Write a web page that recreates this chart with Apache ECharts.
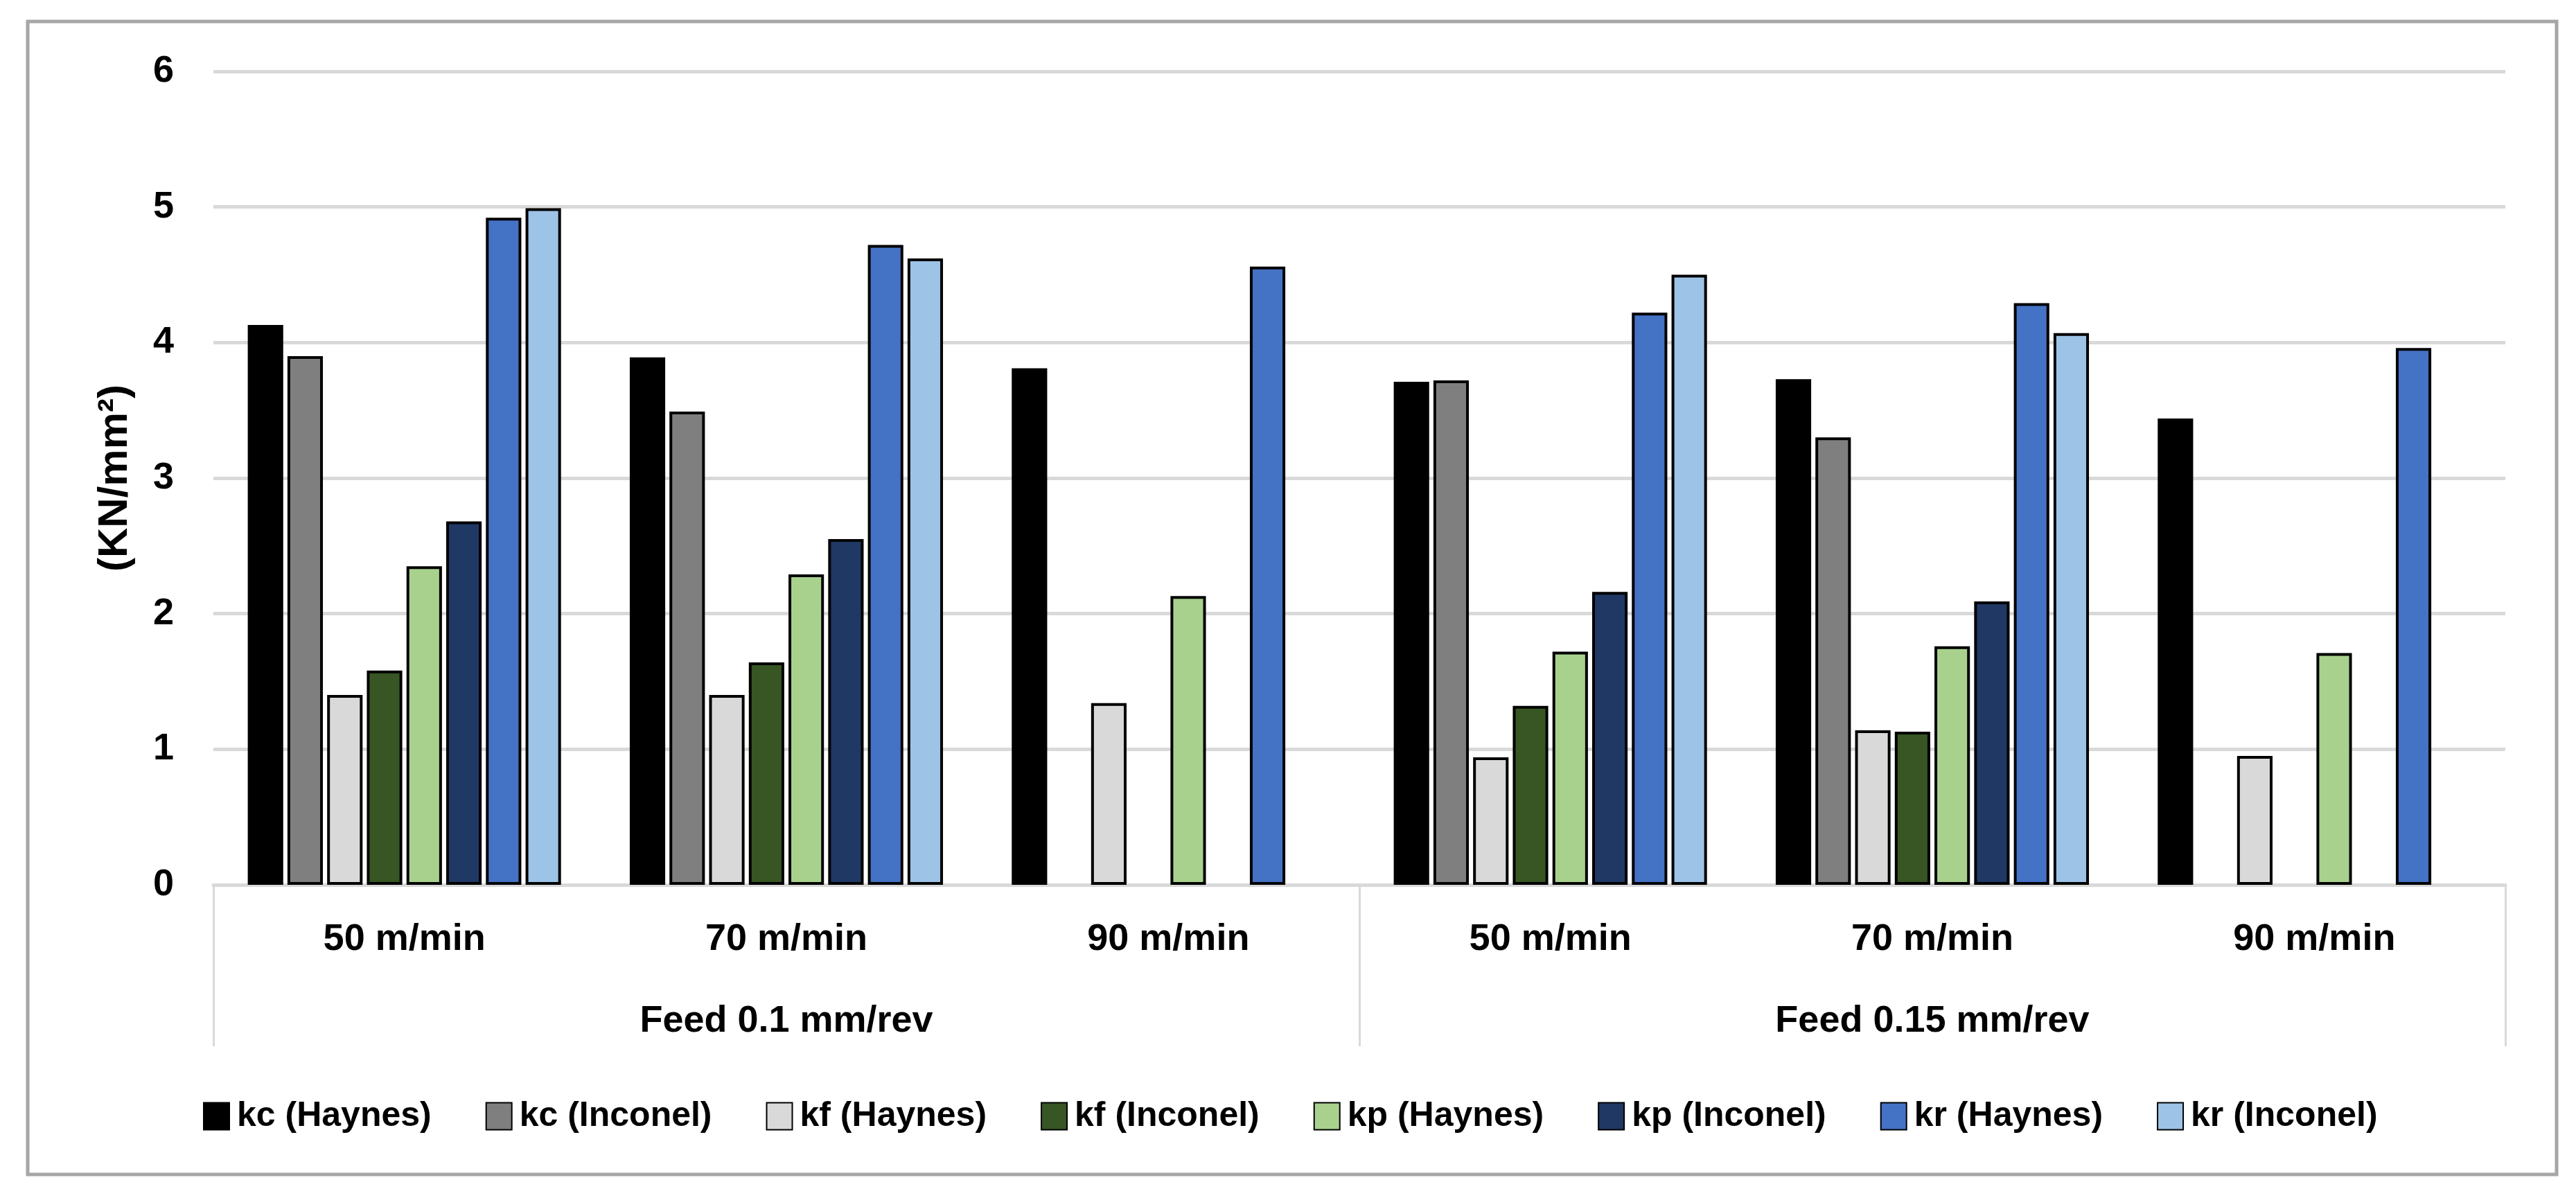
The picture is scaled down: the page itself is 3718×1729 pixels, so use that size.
<!DOCTYPE html>
<html>
<head>
<meta charset="utf-8">
<script src="https://cdn.jsdelivr.net/npm/echarts@6/dist/echarts.min.js"></script>
<style>
html,body{margin:0;padding:0;background:#fff;}
#c{width:3718px;height:1729px;}
</style>
</head>
<body>
<div id="c"></div>
<script>
const speeds = ['50 m/min','70 m/min','90 m/min','50 m/min','70 m/min','90 m/min'];
const feeds = ['Feed 0.1 mm/rev','Feed 0.15 mm/rev'];
const yTicks = [0,1,2,3,4,5,6];
const seriesNames = ['kc (Haynes)','kc (Inconel)','kf (Haynes)','kf (Inconel)','kp (Haynes)','kp (Inconel)','kr (Haynes)','kr (Inconel)'];
const colors = ['#000000','#7f7f7f','#d9d9d9','#375623','#a9d18e','#203864','#4472c4','#9dc3e6'];
const kcHaynes  = [4.13, 3.89, 3.81, 3.71, 3.73, 3.44];
const kcInconel = [3.90, 3.49, null, 3.72, 3.30, null];
const kfHaynes  = [1.40, 1.40, 1.34, 0.94, 1.14, 0.95];
const kfInconel = [1.58, 1.64, null, 1.32, 1.13, null];
const kpHaynes  = [2.35, 2.29, 2.13, 1.72, 1.76, 1.71];
const kpInconel = [2.68, 2.55, null, 2.16, 2.09, null];
const krHaynes  = [4.92, 4.72, 4.56, 4.22, 4.29, 3.96];
const krInconel = [4.99, 4.62, null, 4.50, 4.07, null];
const allData = [kcHaynes,kcInconel,kfHaynes,kfInconel,kpHaynes,kpInconel,krHaynes,krInconel];

const FONT = '"Liberation Sans", Arial, sans-serif';
const chart = echarts.init(document.getElementById('c'), null, {renderer:'canvas'});
const option = {
  animation:false,
  backgroundColor:'#fff',
  textStyle:{fontFamily:FONT},
  graphic:[{
    type:'rect', shape:{x:40,y:31,width:3650,height:1664},
    style:{fill:'none',stroke:'#a6a6a6',lineWidth:5}, z:-1
  }],
  grid:{left:308,right:102,top:103,bottom:452,containLabel:false},
  legend:{
    data:seriesNames, left:288, top:1581,
    itemWidth:37, itemHeight:39, itemGap:78,
    icon:'rect',
    textStyle:{fontFamily:FONT,fontSize:50,fontWeight:'bold',color:'#000',padding:[0,0,0,6]}
  },
  xAxis:[{
    type:'category', data:speeds, position:'bottom',
    axisLine:{show:true,lineStyle:{color:'#d9d9d9',width:5}},
    axisTick:{show:false},
    axisLabel:{margin:52,fontFamily:FONT,fontSize:54,fontWeight:'bold',color:'#000'}
  },{
    type:'category', data:feeds, position:'bottom', offset:0,
    axisLine:{show:false},
    axisTick:{show:true,length:233,alignWithLabel:false,lineStyle:{color:'#d9d9d9',width:3}},
    axisLabel:{margin:170,fontFamily:FONT,fontSize:54,fontWeight:'bold',color:'#000'}
  }],
  yAxis:{
    type:'value', min:yTicks[0], max:yTicks[yTicks.length-1], interval:1,
    name:'(KN/mm²)', nameLocation:'middle', nameRotate:90, nameGap:112,
    nameTextStyle:{fontFamily:FONT,fontSize:60,fontWeight:'bold',color:'#000'},
    axisLine:{show:false}, axisTick:{show:false},
    axisLabel:{margin:57,fontFamily:FONT,fontSize:54,fontWeight:'bold',color:'#000'},
    splitLine:{show:true,lineStyle:{color:'#d9d9d9',width:5}}
  },
  series: seriesNames.map((n,i)=>({
    name:n, type:'bar', xAxisIndex:0, data:allData[i],
    barGap:'12%', barCategoryGap:'18%',
    itemStyle:{color:colors[i],borderColor:'#000',borderWidth:4}
  }))
};
chart.setOption(option);
</script>
</body>
</html>
